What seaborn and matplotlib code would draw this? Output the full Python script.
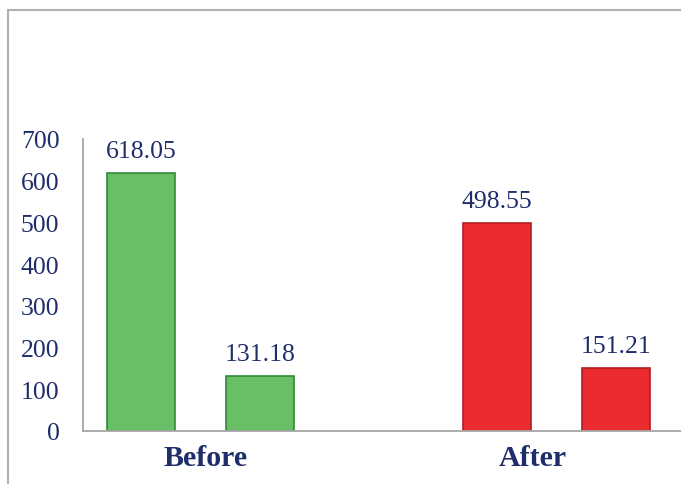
import pandas as pd
import matplotlib.pyplot as plt
import matplotlib.patches as mpatches
import seaborn as sns

# data
groups = ['Before', 'Before', 'After', 'After']
slots = ['b1', 'b2', 'a1', 'a2']
values = [618.05, 131.18, 498.55, 151.21]
slot_order = ['b1', 'b2', 'gap', 'a1', 'a2']
group_labels = ['Before', 'After']
y_ticks = [0, 100, 200, 300, 400, 500, 600, 700]

NAVY = '#1f2d6b'
fill_colors = {'Before': '#69bf66', 'After': '#ea2b2f'}
edge_colors = {'Before': '#2f8a3a', 'After': '#b01e22'}


def main():
    df = pd.DataFrame({'slot': slots, 'group': groups, 'value': values})

    sns.set_style('white')
    plt.rcParams['font.family'] = ['Liberation Serif', 'DejaVu Serif']

    fig = plt.figure(figsize=(6.81, 4.85), dpi=100)
    ax = fig.add_axes([83 / 681, 1 - 432 / 485, 1 - 83 / 681, (432 - 140) / 485])

    sns.barplot(data=df, x='slot', y='value', hue='group', order=slot_order,
                palette=fill_colors, saturation=1, dodge=False, width=0.57,
                legend=False, ax=ax)

    for container, grp in zip(ax.containers, ['Before', 'After']):
        for bar in container:
            bar.set_edgecolor(edge_colors[grp])
            bar.set_linewidth(1.2)
        ax.bar_label(container, fmt='%.2f', padding=8, color=NAVY, fontsize=18.5)

    ax.set_ylim(0, 700)
    ax.set_yticks(y_ticks)
    ax.set_xlim(-0.49, 4.55)
    ax.set_xticks([0.54, 3.3])
    ax.set_xticklabels(group_labels, fontsize=21.5, fontweight='bold', color=NAVY)
    ax.tick_params(axis='y', labelsize=18.5, labelcolor=NAVY, length=0, pad=17)
    ax.tick_params(axis='x', length=0, pad=9)
    ax.set_xlabel('')
    ax.set_ylabel('')

    for side in ['top', 'right']:
        ax.spines[side].set_visible(False)
    for side in ['left', 'bottom']:
        ax.spines[side].set_color('#a6a6a6')
        ax.spines[side].set_linewidth(1.3)

    # outer frame of the original chart box (runs off the right and bottom)
    frame = mpatches.Rectangle((8 / 681, -0.1), 1.2, 1 - 11 / 485 + 0.1,
                               transform=fig.transFigure, fill=False,
                               edgecolor='#b0b0b0', linewidth=1.5)
    fig.patches.append(frame)

    fig.savefig('out.png', dpi=100)


if __name__ == '__main__':
    main()
